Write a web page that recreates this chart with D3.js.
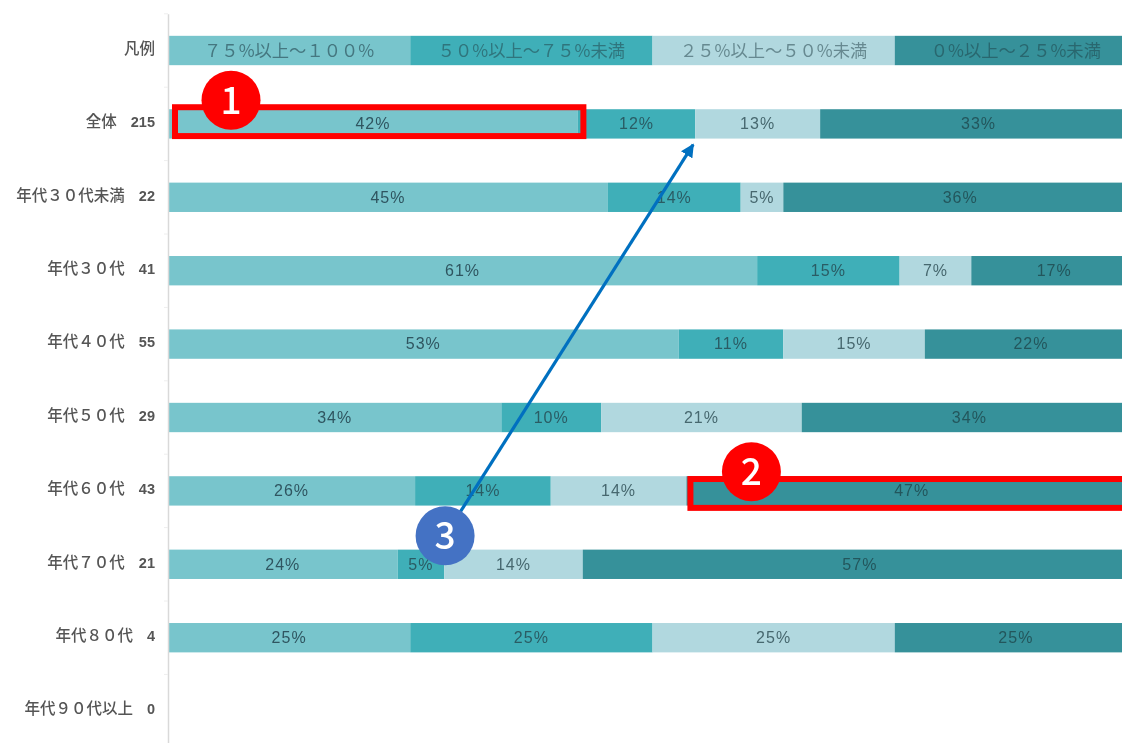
<!DOCTYPE html>
<html>
<head>
<meta charset="utf-8">
<script src="https://cdn.jsdelivr.net/npm/d3@7"></script>
<style>
  html, body { margin: 0; padding: 0; background: #fff; overflow: hidden; }
  text { font-family: "Noto Sans CJK JP", "Noto Sans", sans-serif; }
  .soft { filter: blur(0.7px); }
</style>
</head>
<body>
<svg id="chart" width="1122" height="743"></svg>
<script>
// rows of the chart, top to bottom ("凡例" is the legend row, drawn as a bar)
const categories = ['凡例', '全体', '年代３０代未満', '年代３０代', '年代４０代', '年代５０代', '年代６０代', '年代７０代', '年代８０代', '年代９０代以上'];
const counts = ['', '215', '22', '41', '55', '29', '43', '21', '4', '0'];

// share of each row per band
const band75to100 = [25, 42.3, 45.4, 60.8, 52.7, 34.4, 25.5, 23.7, 25, 0];
const band50to75  = [25, 12.1, 13.7, 14.7, 10.8, 10.3, 14.0, 4.8, 25, 0];
const band25to50  = [25, 12.9, 4.4, 7.4, 14.6, 20.7, 14.0, 14.3, 25, 0];
const band0to25   = [25, 32.7, 36.5, 17.1, 21.9, 34.6, 46.5, 57.2, 25, 0];

// printed labels
const labels75to100 = ['７５%以上～１００%', '42%', '45%', '61%', '53%', '34%', '26%', '24%', '25%', ''];
const labels50to75  = ['５０%以上～７５%未満', '12%', '14%', '15%', '11%', '10%', '14%', '5%', '25%', ''];
const labels25to50  = ['２５%以上～５０%未満', '13%', '5%', '7%', '15%', '21%', '14%', '14%', '25%', ''];
const labels0to25   = ['０%以上～２５%未満', '33%', '36%', '17%', '22%', '34%', '47%', '57%', '25%', ''];

const keys = ['a', 'b', 'c', 'd'];
const colors = ['#78c5cc', '#3fafb8', '#b1d8df', '#36919a'];
const labelColors = ['#2f5560', '#2a5c64', '#47686f', '#23565c'];

const rows = categories.map((name, i) => ({
  name,
  a: band75to100[i], b: band50to75[i], c: band25to50[i], d: band0to25[i],
  labels: [labels75to100[i], labels50to75[i], labels25to50[i], labels0to25[i]]
}));

const svg = d3.select('#chart');
const chart = svg.append('g').attr('class', 'soft');

// the plot runs past the right edge of the picture, 100% is off screen
const x = d3.scaleLinear().domain([0, 100]).range([168, 1137]);
const y = d3.scaleBand().domain(categories).range([13.8, 747.8]).paddingInner(0.6).paddingOuter(0.3);

const series = d3.stack().keys(keys)(rows);

// bars
const layers = chart.selectAll('.layer').data(series).join('g')
  .attr('class', 'layer')
  .attr('fill', (d, i) => colors[i]);

layers.selectAll('rect').data(d => d).join('rect')
  .attr('x', d => x(d[0]))
  .attr('y', d => y(d.data.name))
  .attr('width', d => x(d[1]) - x(d[0]))
  .attr('height', y.bandwidth());

// labels in the segments
series.forEach((s, k) => {
  const isLegend = d => d.data.name === '凡例';
  const g = chart.append('g');
  g.selectAll('text').data(s).join('text')
    .attr('x', d => (x(d[0]) + x(d[1])) / 2)
    .attr('y', d => y(d.data.name) + y.bandwidth() / 2 - (isLegend(d) ? 0 : 0.5))
    .attr('dy', '0.36em')
    .attr('text-anchor', 'middle')
    .attr('font-size', d => isLegend(d) ? 17.3 : 16)
    .attr('letter-spacing', d => isLegend(d) ? 0 : 1)
    .style('font-family', d => isLegend(d) ? null : '"Liberation Sans", sans-serif')
    .attr('fill', labelColors[k])
    .attr('fill-opacity', d => isLegend(d) ? 0.7 : 1)
    .text(d => d.data.labels[k]);
});

// category axis, name and count are set apart in the labels
const axis = d3.axisLeft(y).tickSize(0).tickPadding(13).tickFormat('');
const axisG = chart.append('g').attr('transform', 'translate(168,0)').call(axis);
axisG.select('.domain').attr('stroke', '#d9d9d9').attr('stroke-width', 1.5);
axisG.selectAll('.tick text').each(function (d, i) {
  const t = d3.select(this).attr('fill', '#555');
  t.append('tspan').attr('font-size', 15.5).attr('font-weight', 500).text(d);
  if (counts[i]) {
    t.append('tspan')
      .attr('dx', 14)
      .attr('font-size', 14.5)
      .attr('font-weight', 700)
      .style('font-family', '"Liberation Sans", sans-serif')
      .text(counts[i]);
  }
});

// faint tick marks sit between the rows
chart.append('g').selectAll('line').data(categories).join('line')
  .attr('x1', 164).attr('x2', 168)
  .attr('y1', d => y(d) - y.step() * 0.3)
  .attr('y2', d => y(d) - y.step() * 0.3)
  .attr('stroke', '#eeeeee');

// callouts drawn on top of the chart
const notes = svg.append('g');
const seg = (k, name) => series[k].find(d => d.data.name === name);

// red frames, they sit a little off their bars in the source
const frame = (k, name, padLeft, padRight, shift) => {
  const d = seg(k, name);
  notes.append('rect')
    .attr('x', x(d[0]) + padLeft)
    .attr('y', y(name) + shift)
    .attr('width', x(d[1]) - x(d[0]) - padLeft + padRight)
    .attr('height', y.bandwidth() - 0.5)
    .attr('fill', 'none')
    .attr('stroke', '#ff0000')
    .attr('stroke-width', 6);
};
frame(0, '全体', 7, 5.5, -2);
frame(3, '年代６０代', 4, 5, 2.8);

// blue arrow
notes.append('defs').append('marker')
  .attr('id', 'arrow')
  .attr('viewBox', '0 0 10 10')
  .attr('refX', 9).attr('refY', 5)
  .attr('markerWidth', 4.2).attr('markerHeight', 4.2)
  .attr('orient', 'auto')
  .append('path').attr('d', 'M0,0L10,5L0,10Z').attr('fill', '#0070c0');

const arrowEnd = seg(1, '全体');
const circle3 = { x: x(seg(0, '年代６０代')[1]) + 30, y: y('年代７０代') + y.bandwidth() / 2 - 28.5 };
notes.append('line')
  .attr('x1', circle3.x).attr('y1', circle3.y)
  .attr('x2', x(arrowEnd[1]) - 2).attr('y2', y('全体') + y.bandwidth() + 6)
  .attr('stroke', '#0070c0')
  .attr('stroke-width', 3.2)
  .attr('marker-end', 'url(#arrow)');

// numbered badges
const badges = [
  { text: '1', fill: '#ff0000', cx: x(seg(0, '全体')[0]) + 63, cy: y('全体') - 9 },
  { text: '2', fill: '#ff0000', cx: x(seg(3, '年代６０代')[0]) + 65, cy: y('年代６０代') - 4.5 },
  { text: '3', fill: '#4472c4', cx: circle3.x, cy: circle3.y }
];
const badge = notes.selectAll('.badge').data(badges).join('g').attr('class', 'badge');
badge.append('circle')
  .attr('cx', d => d.cx).attr('cy', d => d.cy).attr('r', 29.5)
  .attr('fill', d => d.fill);
badge.append('text')
  .attr('x', d => d.cx).attr('y', d => d.cy)
  .attr('dy', '0.36em')
  .attr('text-anchor', 'middle')
  .attr('font-size', 37)
  .attr('font-weight', 500)
  .attr('fill', '#fff')
  .text(d => d.text);
</script>
</body>
</html>
